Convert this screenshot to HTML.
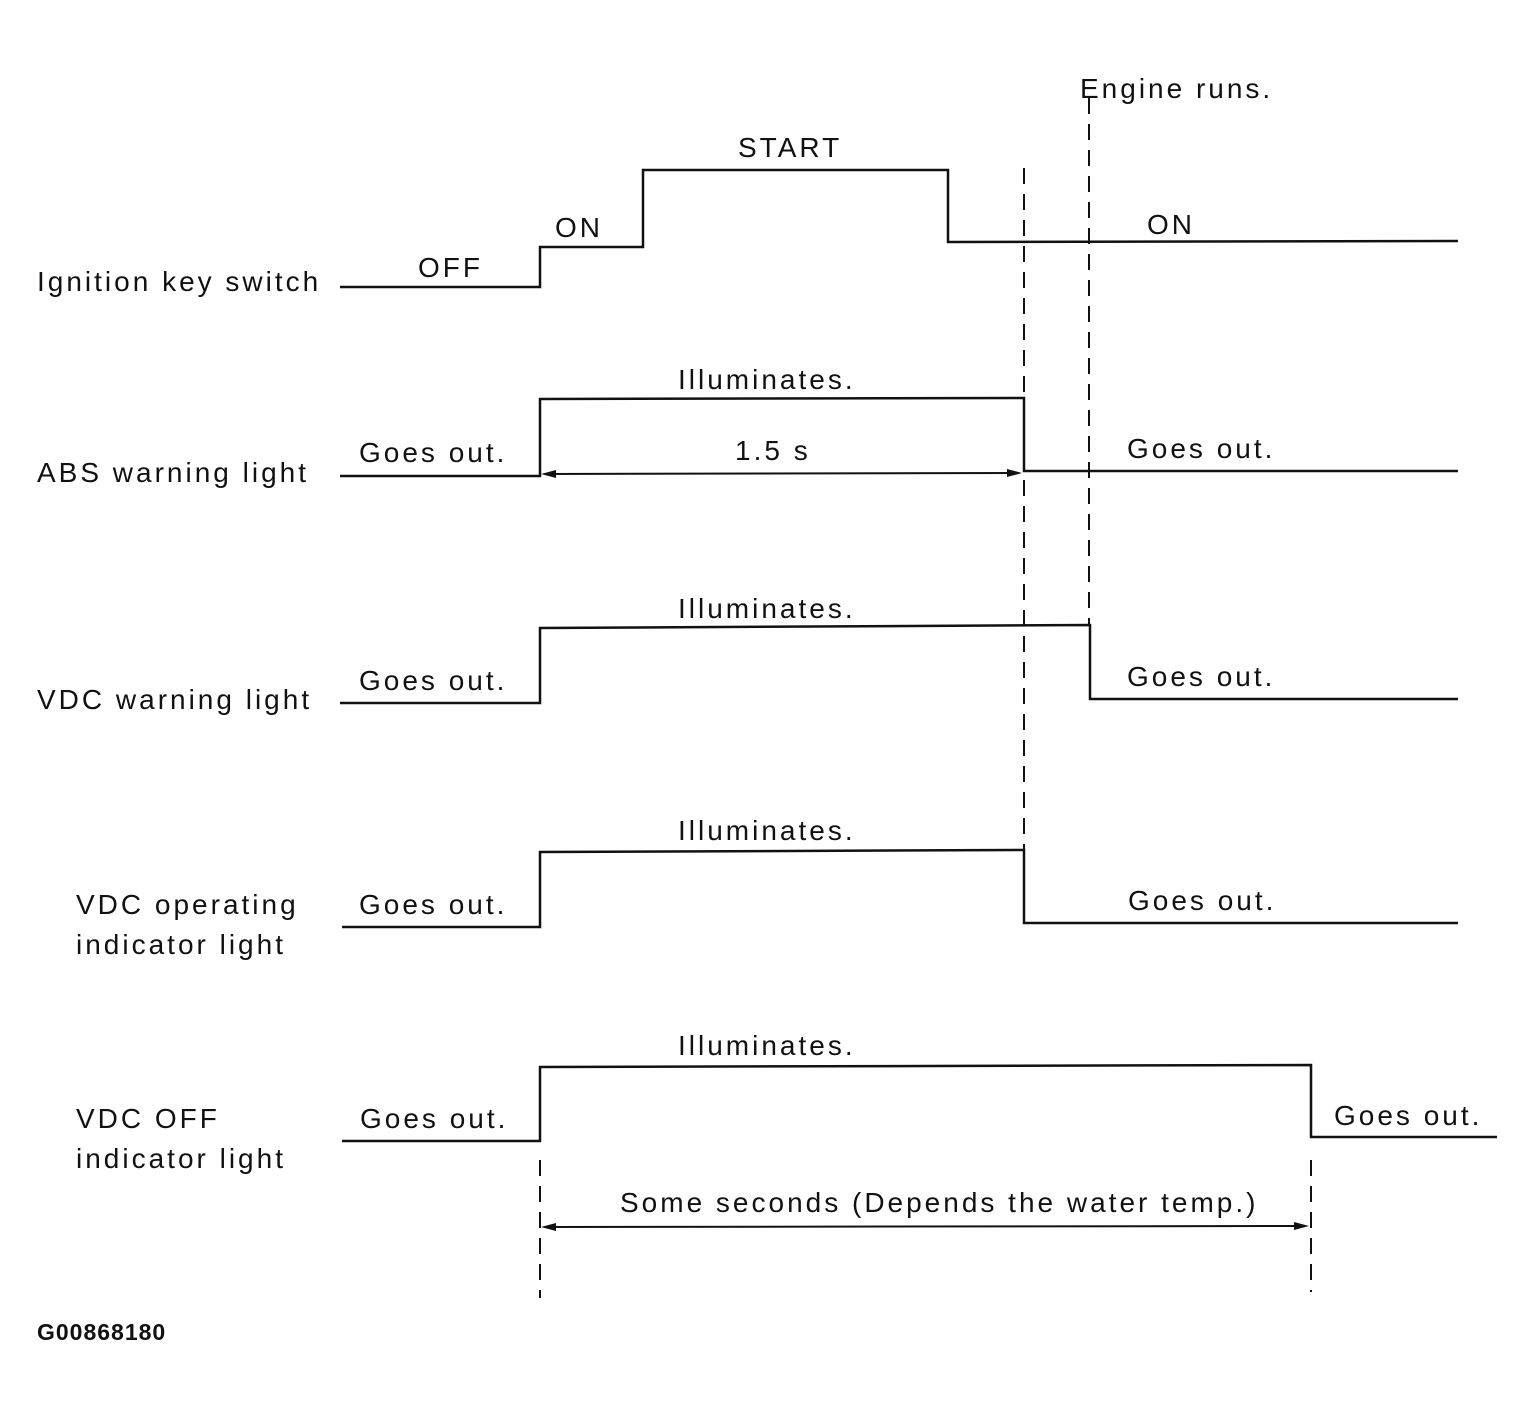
<!DOCTYPE html>
<html><head><meta charset="utf-8"><style>
html,body{margin:0;padding:0;background:#fff;}
svg{display:block;}
text{font-family:"Liberation Sans",sans-serif;font-size:28px;fill:#111;letter-spacing:3px;}
</style></head><body>
<svg width="1534" height="1415" viewBox="0 0 1534 1415" xmlns="http://www.w3.org/2000/svg">
<g fill="none" stroke="#111" stroke-width="2.5">
<polyline points="340,287 540,287 540,247 643,247 643,170 948,170 948,242 1458,241"/>
<polyline points="340,476 540,476 540,399 1024,398 1024,471 1458,471"/>
<polyline points="340,703 540,703 540,628 1090,625 1090,699 1458,699"/>
<polyline points="342,927 540,927 540,852 1024,850 1024,923 1458,923"/>
<polyline points="342,1141 540,1141 540,1067 1311,1065 1311,1137 1497,1137"/>
<g stroke-dasharray="16,10" stroke-width="2">
<line x1="1024" y1="168" x2="1024" y2="852"/>
<line x1="1089" y1="98" x2="1089" y2="626"/>
<line x1="540" y1="1160" x2="540" y2="1298"/>
<line x1="1311" y1="1160" x2="1311" y2="1292"/>
</g>
<line x1="545" y1="474" x2="1018" y2="473" stroke-width="2"/>
<line x1="545" y1="1227" x2="1305" y2="1226" stroke-width="2"/>
</g>
<g fill="#111">
<polygon points="541,474 556,470 556,478"/>
<polygon points="1022,473 1007,469 1007,477"/>
<polygon points="541,1227 556,1223 556,1231"/>
<polygon points="1309,1226 1294,1222 1294,1230"/>
</g>
<text x="1080" y="98">Engine runs.</text>
<text x="738" y="157">START</text>
<text x="555" y="237">ON</text>
<text x="1147" y="234">ON</text>
<text x="418" y="277">OFF</text>
<text x="37" y="291">Ignition key switch</text>
<text x="678" y="389">Illuminates.</text>
<text x="735" y="460">1.5 s</text>
<text x="359" y="462">Goes out.</text>
<text x="1127" y="458">Goes out.</text>
<text x="37" y="482">ABS warning light</text>
<text x="678" y="618">Illuminates.</text>
<text x="359" y="690">Goes out.</text>
<text x="1127" y="686">Goes out.</text>
<text x="37" y="709">VDC warning light</text>
<text x="678" y="840">Illuminates.</text>
<text x="76" y="914">VDC operating</text>
<text x="76" y="954">indicator light</text>
<text x="359" y="914">Goes out.</text>
<text x="1128" y="910">Goes out.</text>
<text x="678" y="1055">Illuminates.</text>
<text x="76" y="1128">VDC OFF</text>
<text x="76" y="1168">indicator light</text>
<text x="360" y="1128">Goes out.</text>
<text x="1334" y="1125">Goes out.</text>
<text x="620" y="1212">Some seconds (Depends the water temp.)</text>
<text x="37" y="1340" style="font-size:23px;font-weight:bold;letter-spacing:1px">G00868180</text>
</svg>
</body></html>
